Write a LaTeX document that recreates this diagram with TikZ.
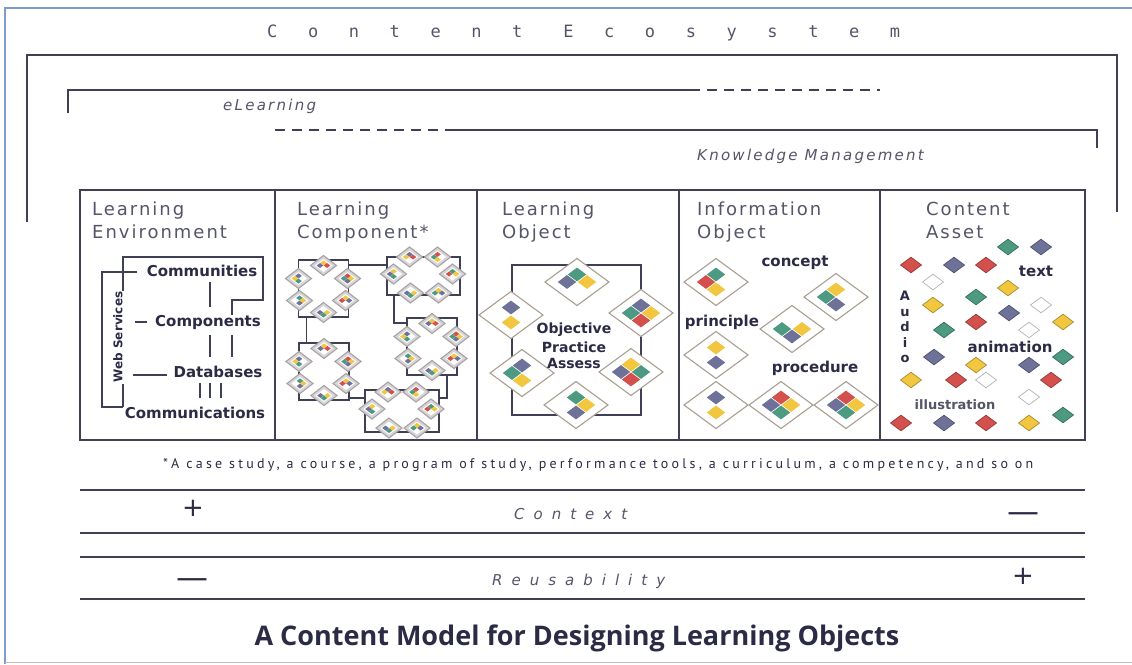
\documentclass[tikz,border=0pt]{standalone}
\usepackage{fontspec}
\setmainfont{DejaVu Sans}
\newfontfamily\hdfont[LetterSpace=11]{DejaVu Sans}
\newfontfamily\ecofont[LetterSpace=180]{DejaVu Sans Mono}
\newfontfamily\slfont[LetterSpace=15]{DejaVu Sans}
\newfontfamily\ctxfont[LetterSpace=60]{DejaVu Sans}
\newfontfamily\notefont[LetterSpace=23]{PT Sans}
\newfontfamily\titlefont{Open Sans}
\usetikzlibrary{calc}
\definecolor{cR}{HTML}{D4504C}
\definecolor{cB}{HTML}{6E7299}
\definecolor{cG}{HTML}{4D9A82}
\definecolor{cY}{HTML}{F2C63F}
\definecolor{gemline}{HTML}{A99F93}
\definecolor{gemgray}{HTML}{A8A2A6}
\definecolor{linecol}{HTML}{3F3F55}
\definecolor{hdcol}{HTML}{55556A}
\definecolor{labcol}{HTML}{2B2B45}
\definecolor{framecol}{HTML}{7D9BD0}
\tikzset{
  pics/gem/.style n args={4}{code={
    \path[fill=white,draw=gemline,line width=1.1pt] (-32,0)--(0,-23.5)--(32,0)--(0,23.5)--cycle;
    \path[fill=#1] (-9.2,-7.5)--(0,-14.4)--(9.2,-7.5)--(0,-0.6)--cycle;
    \path[fill=#2] (-19.2,0)--(-10,-6.9)--(-0.8,0)--(-10,6.9)--cycle;
    \path[fill=#3] (0.8,0)--(10,-6.9)--(19.2,0)--(10,6.9)--cycle;
    \path[fill=#4] (-9.2,7.5)--(0,0.6)--(9.2,7.5)--(0,14.4)--cycle;
  }},
  pics/minigem/.style n args={4}{code={
    \path[fill=gemgray!45,draw=gemgray,line width=1.1pt] (-13,0)--(0,-10)--(13,0)--(0,10)--cycle;
    \path[fill=white] (-8.5,0)--(0,-6.5)--(8.5,0)--(0,6.5)--cycle;
    \path[fill=#1] (-3.3,-2.6)--(0,-5.1)--(3.3,-2.6)--(0,-0.1)--cycle;
    \path[fill=#2] (-6.8,0)--(-3.5,-2.5)--(-0.2,0)--(-3.5,2.5)--cycle;
    \path[fill=#3] (0.2,0)--(3.5,-2.5)--(6.8,0)--(3.5,2.5)--cycle;
    \path[fill=#4] (-3.3,2.6)--(0,0.1)--(3.3,2.6)--(0,5.1)--cycle;
  }},
  pics/chip/.style={code={
    \path[fill=#1,draw=#1!70!black,line width=.7pt] (-10.5,0)--(0,-7.8)--(10.5,0)--(0,7.8)--cycle;
  }},
  ln/.style={draw=linecol,line width=1.2pt},
  panel/.style={draw=linecol,line width=1.4pt,inner sep=0pt,outer sep=0pt,minimum height=250pt},
  lcbox/.style={draw=linecol,line width=1.3pt,inner sep=0pt,outer sep=0pt},
  hd/.style={anchor=north west,inner sep=0pt,align=left,text=hdcol,font=\hdfont\fontsize{18}{23}\selectfont},
  lab/.style={inner sep=0pt,text=labcol,font=\fontsize{15}{17}\selectfont\bfseries},
  slab/.style={inner sep=0pt,text=labcol,font=\fontsize{14}{17}\selectfont\bfseries},
  dashdot/.style={ln,dash pattern=on 10pt off 7pt},
}
\begin{document}
\begin{tikzpicture}[x=1pt,y=-1pt]
\useasboundingbox (0,0) rectangle (1132,664);
\fill[white] (0,0) rectangle (1132,664);
% outer frame
\draw[framecol,line width=1.6pt] (5,664) -- (5,8) -- (1132,8);
\draw[black!25,line width=1pt] (5,662) -- (1132,662);
% title top
\node[anchor=base west,inner sep=0pt,text=hdcol,font=\ecofont\fontsize{17}{20}\selectfont] (eco) at (267,37) {Content Ecosystem};
% big bracket
\draw[ln] (27,222) -- (27,55) -- (1117,55) -- (1117,212);
% eLearning bracket
\draw[ln] (68,113) -- (68,90) -- (690,90);
\draw[dashdot] (690,90) -- (880,90);
\node[anchor=base west,inner sep=0pt,text=hdcol,font=\slfont\itshape\fontsize{15}{17}\selectfont] (elearn) at (223,110) {eLearning};
% KM bracket
\draw[dashdot] (275,130) -- (455,130);
\draw[ln] (455,130) -- (1097,130) -- (1097,148);
\node[anchor=base west,inner sep=0pt,text=hdcol,font=\slfont\itshape\fontsize{15}{17}\selectfont] (km) at (697,160) {Knowledge Management};
% panels
\node[panel,minimum width=195pt] (pLE) at (177.5,315) {};
\node[panel,minimum width=202pt] (pLC) at (376,315) {};
\node[panel,minimum width=202pt] (pLO) at (578,315) {};
\node[panel,minimum width=201pt] (pIO) at (779.5,315) {};
\node[panel,minimum width=205pt] (pCA) at (982.5,315) {};
% headers
\node[hd] (hLE) at (92,202) {Learning\\Environment};
\node[hd] (hLC) at (297,202) {Learning\\Component*};
\node[hd] (hLO) at (502,202) {Learning\\Object};
\node[hd] (hIO) at (697,202) {Information\\Object};
\node[hd] (hCA) at (926,202) {Content\\Asset};
% ---------- Learning Environment
\node[lab] (comm) at (202,271) {Communities};
\node[lab] (comp) at (208,322) {Components};
\node[lab] (db) at (218,372) {Databases};
\node[lab] (commu) at (195,413) {Communications};
\node[inner sep=0pt,text=labcol,font=\fontsize{12}{14}\selectfont\bfseries,rotate=90] (ws) at (118,337) {Web Services};
\draw[ln] (232,315) -- (232,300) -- (263,300) -- (263,257) -- (123,257) -- (123,291);
\draw[ln] (123,384) -- (123,407);
\draw[ln] (137,272) -- (102,272) -- (102,407) -- (123,407);
\draw[ln] (135,322) -- (147,322);
\draw[ln] (133,375) -- (167,375);
\draw[ln] (210,282) -- (210,307);
\draw[ln] (210,335) -- (210,357);
\draw[ln] (232,335) -- (232,357);
\draw[ln] (200,383) -- (200,398);
\draw[ln] (210,383) -- (210,398);
\draw[ln] (221,383) -- (221,398);
% ---------- Learning Component
\node[lcbox,minimum width=50pt,minimum height=57pt] (A) at (323.5,288.5) {};
\node[lcbox,minimum width=73pt,minimum height=38pt] (B) at (423.5,276) {};
\node[lcbox,minimum width=50pt,minimum height=57pt] (C) at (432,346.5) {};
\node[lcbox,minimum width=50pt,minimum height=57pt] (D) at (324,371.5) {};
\node[lcbox,minimum width=74pt,minimum height=42pt] (E) at (402,411) {};
\draw[ln] ([yshift=-5pt]A.north east) -- ([yshift=-5pt]A.north east -| B.west);
\draw[ln] ([xshift=8pt]A.south west) -- ([xshift=8pt]A.south west |- D.north);
\draw[ln] ([xshift=7pt]B.south west) |- ([yshift=-5pt]C.north west);
\draw[ln] ([xshift=-10pt]C.south east) |- ([yshift=-8pt]E.north east);
\draw[ln] ([yshift=2pt]D.south east) -- ([yshift=2pt]D.south east -| E.west);
\foreach \bx in {A,D,C}{
  \foreach \dx/\dy/\a/\b/\c/\d in {0/-23/cY/cB/cR/none,-25/-10/cB/cY/none/cG,24/-10/cR/cG/cY/cB,-24/12/cG/none/cY/cB,22/12/cY/cR/cB/none,0/24/none/cB/cY/cG}
    \pic at ($(\bx.center)+(\dx,\dy)$) {minigem={\a}{\b}{\c}{\d}};
}
\foreach \bx in {B,E}{
  \foreach \dx/\dy/\a/\b/\c/\d in {-14/-19/cB/cY/cR/none,14/-19/cR/cG/none/cY,-30/-2/cY/cB/none/cG,29/-2/cG/cR/cY/none,-13/17/none/cB/cY/cG,15/17/cY/cG/cB/none}
    \pic at ($(\bx.center)+(\dx,\dy)$) {minigem={\a}{\b}{\c}{\d}};
}
% ---------- Learning Object
\node[lcbox,minimum width=129pt,minimum height=150pt] (LOr) at (576.5,340) {};
\pic at (577,282) {gem={cG}{cB}{cY}{none}};
\pic at (511,315) {gem={cB}{none}{none}{cY}};
\pic at (641,313) {gem={cB}{cG}{cY}{cR}};
\pic at (522,373) {gem={cB}{cG}{none}{cY}};
\pic at (631,372) {gem={cY}{cB}{cG}{cR}};
\pic at (576,405) {gem={cG}{none}{cY}{cB}};
\node[slab] (obj) at (574,330) {Objective};
\node[slab] (prac) at (574,347) {Practice};
\node[slab] (ass) at (574,363) {Assess};
% ---------- Information Object
\pic at (716,282) {gem={cG}{cR}{none}{cY}};
\pic at (836,297) {gem={cY}{cG}{none}{cB}};
\pic at (792,329) {gem={none}{cG}{cY}{cB}};
\pic at (716,355) {gem={cY}{none}{none}{cB}};
\pic at (716,405) {gem={cB}{none}{none}{cY}};
\pic at (781,405) {gem={cR}{cB}{cY}{cG}};
\pic at (846,405) {gem={cR}{cB}{cY}{cG}};
\node[lab] (concept) at (795,263) {concept};
\node[lab] (principle) at (722,322) {principle};
\node[lab] (procedure) at (815,368) {procedure};
% ---------- Content Asset
\foreach \px/\py/\col in {1008/247/cG,1041/247/cB,911/265/cR,954/265/cB,986/265/cR,933/282/white,1008/288/cY,976/297/cG,933/305/cY,1041/305/white,1009/313/cB,1063/322/cY,976/322/cR,944/330/cG,1029/330/white,934/357/cB,976/365/cY,1029/365/cB,1063/357/cG,911/380/cY,956/380/cR,986/380/white,1051/380/cR,1029/397/white,901/423/cR,944/423/cB,986/423/cR,1029/423/cY,1063/415/cG}
  \pic at (\px,\py) {chip=\col};
\node[lab] (text) at (1036,271) {text};
\node[lab] (anim) at (1010,347) {animation};
\node[inner sep=0pt,text=labcol!80,font=\fontsize{13}{15}\selectfont\bfseries] (illu) at (955,405) {illustration};
\node[inner sep=0pt,text=labcol,font=\fontsize{13}{15.5}\selectfont\bfseries,align=center,anchor=north] (audio) at (905,291) {A\\u\\d\\i\\o};
% ---------- bottom
\node[anchor=base west,inner sep=0pt,text=labcol,font=\notefont\fontsize{14}{16}\selectfont] (note) at (163,468) {*A case study, a course, a program of study, performance tools, a curriculum, a competency, and so on};
\draw[ln] (80,490) -- (1085,490);
\draw[ln] (80,533) -- (1085,533);
\draw[ln] (80,557) -- (1085,557);
\draw[ln] (80,599) -- (1085,599);
\node[inner sep=0pt,text=labcol,font=\fontsize{26}{28}\selectfont] (p1) at (193,508) {+};
\node[anchor=base west,inner sep=0pt,text=hdcol,font=\ctxfont\itshape\fontsize{15}{17}\selectfont] (ctx) at (514,519) {Context};
\node[inner sep=0pt,text=labcol,font=\fontsize{32}{34}\selectfont] (m1) at (1023,518) {—};
\node[inner sep=0pt,text=labcol,font=\fontsize{32}{34}\selectfont] (m2) at (192,584) {—};
\node[anchor=base west,inner sep=0pt,text=hdcol,font=\ctxfont\itshape\fontsize{15}{17}\selectfont] (reu) at (492,585) {Reusability};
\node[inner sep=0pt,text=labcol,font=\fontsize{26}{28}\selectfont] (p2) at (1023,576) {+};
\node[anchor=base,inner sep=0pt,text=labcol,font=\titlefont\bfseries\fontsize{27}{30}\selectfont] (title) at (577,645) {A Content Model for Designing Learning Objects};
\end{tikzpicture}
\end{document}
